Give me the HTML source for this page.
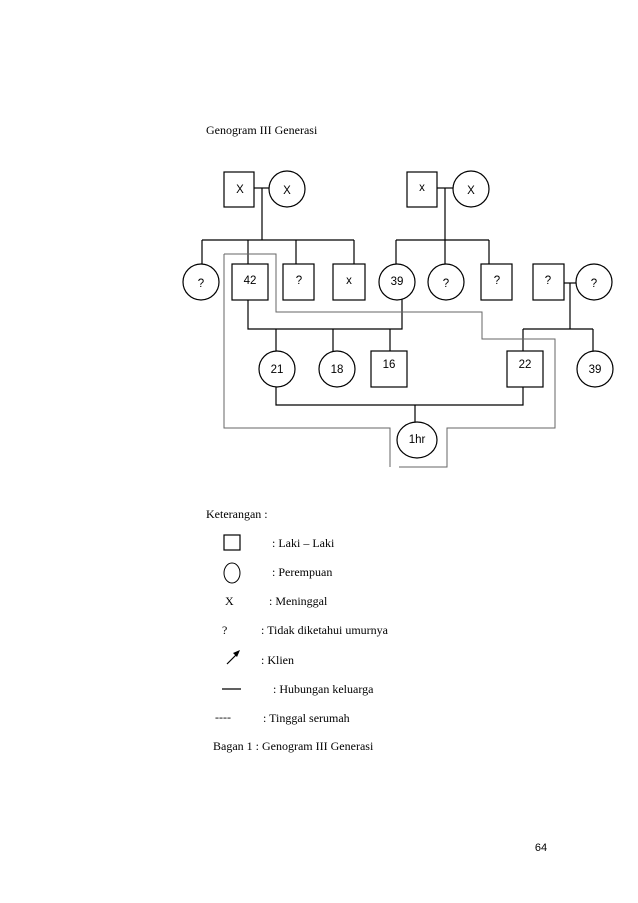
<!DOCTYPE html>
<html><head><style>
body{margin:0;background:#fff;}
svg{display:block;}
.s{font-family:"Liberation Serif",serif;font-size:12px;fill:#000;}
.n{font-family:"Liberation Sans",sans-serif;font-size:11.5px;fill:#000;text-anchor:middle;}
</style></head><body>
<svg width="638" height="903" viewBox="0 0 638 903" xmlns="http://www.w3.org/2000/svg">
<text class="s" x="206" y="134">Genogram III Generasi</text>
<g stroke="#000" stroke-width="1.2" fill="none">
<!-- grandparents left -->
<rect x="224" y="172" width="30" height="35"/>
<ellipse cx="287" cy="189" rx="18" ry="18"/>
<line x1="254" y1="188" x2="269" y2="188"/>
<line x1="262" y1="188" x2="262" y2="240"/>
<line x1="202" y1="240" x2="354" y2="240"/>
<line x1="202" y1="240" x2="202" y2="264"/>
<line x1="248" y1="240" x2="248" y2="264"/>
<line x1="296" y1="240" x2="296" y2="264"/>
<line x1="354" y1="240" x2="354" y2="264"/>
<!-- grandparents right -->
<rect x="407" y="172" width="30" height="35"/>
<ellipse cx="471" cy="189" rx="18" ry="18"/>
<line x1="437" y1="188" x2="453" y2="188"/>
<line x1="445" y1="188" x2="445" y2="240"/>
<line x1="396" y1="240" x2="489" y2="240"/>
<line x1="396" y1="240" x2="396" y2="264"/>
<line x1="445" y1="240" x2="445" y2="264"/>
<line x1="489" y1="240" x2="489" y2="264"/>
<!-- row 2 -->
<ellipse cx="201" cy="282" rx="18" ry="18"/>
<rect x="232" y="264" width="36" height="36"/>
<rect x="283" y="264" width="31" height="36"/>
<rect x="333" y="264" width="32" height="36"/>
<ellipse cx="397" cy="282" rx="18" ry="18"/>
<ellipse cx="446" cy="282" rx="18" ry="18"/>
<rect x="481" y="264" width="31" height="36"/>
<rect x="533" y="264" width="31" height="36"/>
<ellipse cx="594" cy="282" rx="18" ry="18"/>
<!-- right couple -->
<line x1="564" y1="283" x2="576" y2="283"/>
<line x1="570" y1="283" x2="570" y2="329"/>
<line x1="523" y1="329" x2="593" y2="329"/>
<line x1="523" y1="329" x2="523" y2="351"/>
<line x1="593" y1="329" x2="593" y2="351"/>
<!-- 42-39 marriage -->
<polyline points="248,300 248,329 402,329 402,299"/>
<line x1="276" y1="329" x2="276" y2="351"/>
<line x1="333" y1="329" x2="333" y2="351"/>
<line x1="390" y1="329" x2="390" y2="351"/>
<!-- row 3 -->
<ellipse cx="277" cy="369" rx="18" ry="18"/>
<ellipse cx="337" cy="369" rx="18" ry="18"/>
<rect x="371" y="351" width="36" height="36"/>
<rect x="507" y="351" width="36" height="36"/>
<ellipse cx="595" cy="369" rx="18" ry="18"/>
<!-- 21-22 marriage -->
<polyline points="276,387 276,405 523,405 523,387"/>
<line x1="415" y1="405" x2="415" y2="422"/>
<ellipse cx="417" cy="440" rx="20" ry="18"/>
</g>
<g stroke="#666" stroke-width="1" fill="none">
<polyline points="224,254 276,254 276,312 482,312 482,339 555,339 555,428 447,428 447,467 399,467"/>
<polyline points="224,254 224,428 390,428 390,467"/>
</g>
<text class="n" x="240" y="193">X</text>
<text class="n" x="287" y="194">X</text>
<text class="n" x="422" y="191">x</text>
<text class="n" x="471" y="194">X</text>
<text class="n" x="201" y="287">?</text>
<text class="n" x="250" y="284">42</text>
<text class="n" x="299" y="284">?</text>
<text class="n" x="349" y="284">x</text>
<text class="n" x="397" y="285">39</text>
<text class="n" x="446" y="287">?</text>
<text class="n" x="497" y="284">?</text>
<text class="n" x="548" y="284">?</text>
<text class="n" x="594" y="287">?</text>
<text class="n" x="277" y="373">21</text>
<text class="n" x="337" y="373">18</text>
<text class="n" x="389" y="368">16</text>
<text class="n" x="525" y="368">22</text>
<text class="n" x="595" y="373">39</text>
<text class="n" x="417" y="443">1hr</text>

<text class="s" x="206" y="518">Keterangan :</text>
<rect x="224" y="535" width="16" height="15" fill="none" stroke="#000" stroke-width="1.2"/>
<text class="s" x="272" y="547">: Laki – Laki</text>
<ellipse cx="232" cy="573" rx="8" ry="10" fill="none" stroke="#000" stroke-width="1"/>
<text class="s" x="272" y="576">: Perempuan</text>
<text class="s" x="225" y="605">X</text>
<text class="s" x="269" y="605">: Meninggal</text>
<text class="s" x="222" y="634">?</text>
<text class="s" x="261" y="634">: Tidak diketahui umurnya</text>
<line x1="227" y1="664" x2="237" y2="654" stroke="#000" stroke-width="1.2"/>
<polygon points="240,650 233,653 237,657" fill="#000"/>
<text class="s" x="261" y="664">: Klien</text>
<line x1="222" y1="689" x2="241" y2="689" stroke="#000" stroke-width="1.3"/>
<text class="s" x="273" y="693">: Hubungan keluarga</text>
<text class="s" x="215" y="721">----</text>
<text class="s" x="263" y="722">: Tinggal serumah</text>
<text class="s" x="213" y="750">Bagan 1 : Genogram III Generasi</text>
<text class="n" x="541" y="851" style="font-size:11px">64</text>
</svg>
</body></html>
